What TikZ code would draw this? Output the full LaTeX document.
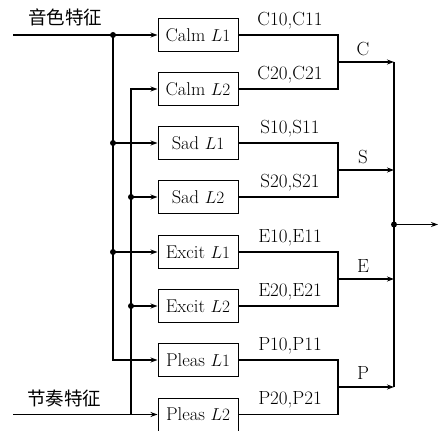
\documentclass[tikz,border=0pt]{standalone}
\usepackage{fontspec}
\newfontfamily\cjk{Noto Sans CJK SC}
\usetikzlibrary{arrows.meta}
\begin{document}
\begin{tikzpicture}[x=1pt,y=-1pt,
  line width=1.2pt,
  box/.style={draw,line width=1pt,minimum width=80pt,minimum height=33pt,inner sep=0pt,font=\fontsize{18.5}{22}\selectfont},
  lbl/.style={font=\fontsize{19}{22}\selectfont,inner sep=0pt},
  cjklbl/.style={font=\cjk\fontsize{18.5}{22}\selectfont,inner sep=0pt},
  arr/.style={-{Stealth[length=7pt,width=5pt]}},
  dot/.style={circle,fill,inner sep=0pt,minimum size=6pt}]
\useasboundingbox (0,0) rectangle (438,430);
% boxes
\node[box] (c1) at (198,35) {Calm $L1$};
\node[box] (c2) at (198,89) {Calm $L2$};
\node[box] (s1) at (198,143) {Sad $L1$};
\node[box] (s2) at (198,197) {Sad $L2$};
\node[box] (e1) at (198,252) {Excit $L1$};
\node[box] (e2) at (198,306) {Excit $L2$};
\node[box] (p1) at (198,360) {Pleas $L1$};
\node[box] (p2) at (198,414.5) {Pleas $L2$};
% inputs
\coordinate (in1) at (13,35);
\coordinate (in2) at (13,414.5);
\node[cjklbl] (t1) at (65,17) {音色特征};
\node[cjklbl] (t2) at (64,398) {节奏特征};
\node[dot] (j1) at (113,35) {};
\node[dot] (j2) at (113,143) {};
\node[dot] (j3) at (113,252) {};
\node[dot] (k1) at (131,197) {};
\node[dot] (k2) at (131,306) {};
\coordinate (k0) at (131,414.5);
\draw[arr] (in1) -- (c1.west);
\draw[arr] (j1.center) |- (p1.west);
\draw[arr] (j2.center) -- (s1.west);
\draw[arr] (j3.center) -- (e1.west);
\draw[arr] (in2) -- (p2.west);
\draw[arr] (k0) |- (c2.west);
\draw[arr] (k1.center) -- (s2.west);
\draw[arr] (k2.center) -- (e2.west);
% merges
\coordinate (mC) at (338,62);
\coordinate (mS) at (338,170);
\coordinate (mE) at (338,279);
\coordinate (mP) at (338,387);
\coordinate (bC) at (394,62);
\coordinate (bS) at (394,170);
\coordinate (bE) at (394,279);
\coordinate (bP) at (394,387);
\draw (c1.east) -| (mC) |- (c2.east);
\draw (s1.east) -| (mS) |- (s2.east);
\draw (e1.east) -| (mE) |- (e2.east);
\draw (p1.east) -| (mP) |- (p2.east);
\draw[arr] (mC) -- (bC);
\draw[arr] (mS) -- (bS);
\draw[arr] (mE) -- (bE);
\draw[arr] (mP) -- (bP);
\draw (bC) -- (bP);
\node[dot] (out) at (394,224.5) {};
\coordinate (end) at (438,224.5);
\draw[arr] (out.center) -- (end);
% labels
\node[lbl] (lc1) at (290,21) {C10,C11};
\node[lbl] (lc2) at (290,75) {C20,C21};
\node[lbl] (ls1) at (290,129) {S10,S11};
\node[lbl] (ls2) at (290,183) {S20,S21};
\node[lbl] (le1) at (290,238) {E10,E11};
\node[lbl] (le2) at (290,292) {E20,E21};
\node[lbl] (lp1) at (290,346) {P10,P11};
\node[lbl] (lp2) at (290,400) {P20,P21};
\node[lbl] (lC) at (363,49) {C};
\node[lbl] (lS) at (363,157) {S};
\node[lbl] (lE) at (363,266) {E};
\node[lbl] (lP) at (363,373) {P};
\end{tikzpicture}
\end{document}
